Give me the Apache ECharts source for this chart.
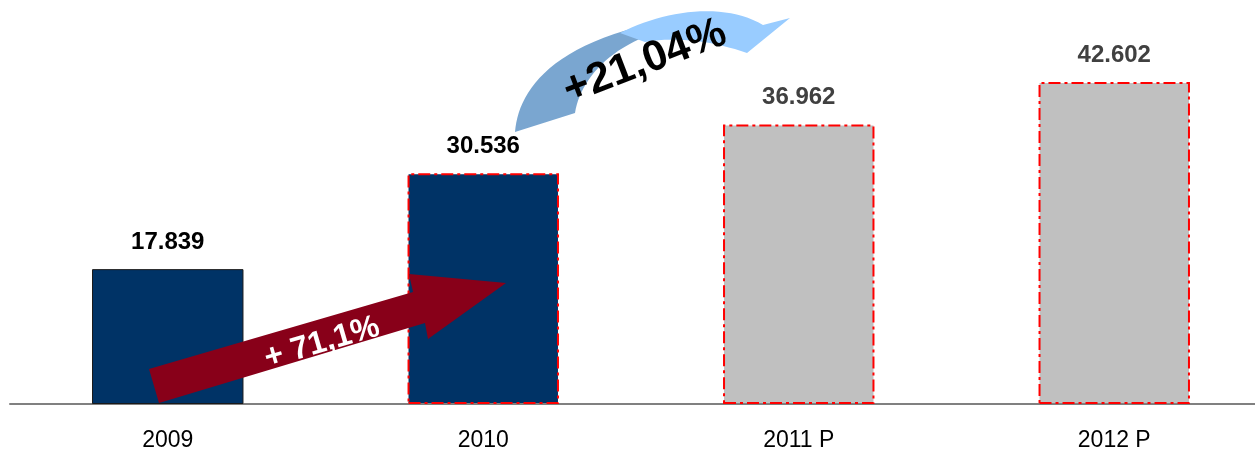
<!DOCTYPE html>
<html>
<head>
<meta charset="utf-8">
<script src="https://cdn.jsdelivr.net/npm/echarts@6/dist/echarts.min.js"></script>
<style>html,body{margin:0;padding:0;background:#fff}#c{width:1255px;height:452px}</style>
</head>
<body>
<div id="c"></div>
<script>
const categories = ['2009', '2010', '2011 P', '2012 P'];
const values = [17.839, 30.536, 36.962, 42.602];
const valueLabels = ['17.839', '30.536', '36.962', '42.602'];
const growthLabels = ['+ 71,1%', '+21,04%'];

const barStyles = [
  {color: '#003366', borderColor: '#1a1a1a', borderWidth: 1, borderType: 'solid', label: '#000000'},
  {color: '#003366', borderColor: '#ff0000', borderWidth: 2, borderType: [12, 4, 3, 4], label: '#000000'},
  {color: '#c0c0c0', borderColor: '#ff0000', borderWidth: 2, borderType: [12, 4, 3, 4], label: '#404040'},
  {color: '#c0c0c0', borderColor: '#ff0000', borderWidth: 2, borderType: [12, 4, 3, 4], label: '#404040'}
];

// sample cubic bezier into points (decorative shapes)
function bez(p0, p1, p2, p3, n) {
  const pts = [];
  for (let i = 0; i <= n; i++) {
    const t = i / n, u = 1 - t;
    pts.push([
      u*u*u*p0[0] + 3*u*u*t*p1[0] + 3*u*t*t*p2[0] + t*t*t*p3[0],
      u*u*u*p0[1] + 3*u*u*t*p1[1] + 3*u*t*t*p2[1] + t*t*t*p3[1]
    ]);
  }
  return pts;
}
const darkPts = [].concat(
  bez([515,132],[518,95],[545,48],[650,24], 24),
  bez([665,30],[610,45],[580,80],[575,113], 24)
);
const lightPts = [].concat(
  bez([620,33],[665,10],[725,2],[763,25], 24),
  [[790,18],[747,53]],
  bez([747,53],[715,42],[680,36],[645,42], 16)
);

const FONT = '"Liberation Sans", Arial, sans-serif';
const chart = echarts.init(document.getElementById('c'));
chart.setOption({
  animation: false,
  grid: {left: 10, width: 1262, top: 26, bottom: 48, outerBoundsMode: 'none', containLabel: false},
  xAxis: {
    type: 'category',
    data: categories,
    axisLine: {lineStyle: {color: '#808080', width: 2}},
    axisTick: {show: false},
    axisLabel: {color: '#000', fontSize: 23, fontFamily: FONT, margin: 25}
  },
  yAxis: {type: 'value', min: 0, max: 50, show: false, splitLine: {show: false}},
  series: [{
    type: 'bar',
    barWidth: '48%',
    data: values.map((v, i) => ({
      value: v,
      itemStyle: {color: barStyles[i].color, borderColor: barStyles[i].borderColor, borderWidth: barStyles[i].borderWidth, borderType: barStyles[i].borderType},
      label: {color: barStyles[i].label}
    })),
    label: {
      show: true, position: 'top', distance: 15,
      formatter: p => valueLabels[p.dataIndex],
      fontSize: 24, fontWeight: 'bold', fontFamily: FONT
    },
    z: 2
  }],
  graphic: [
    {type: 'polygon', z: 100, shape: {points: [[149,369],[413,292],[409,274],[506,283],[428,339],[425,323],[159,403]]}, style: {fill: '#880019'}},
    {type: 'text', z: 101, x: 322, y: 343, rotation: 16.3 * Math.PI / 180,
      style: {text: growthLabels[0], fill: '#fff', fontSize: 32, fontWeight: 'bold', fontFamily: FONT, align: 'center', verticalAlign: 'middle'}},
    {type: 'polygon', z: 100, shape: {points: darkPts}, style: {fill: '#7aa6d0'}},
    {type: 'polygon', z: 100, shape: {points: lightPts}, style: {fill: '#99ccff'}},
    {type: 'text', z: 101, x: 645, y: 62, rotation: 21 * Math.PI / 180,
      style: {text: growthLabels[1], fill: '#000', fontSize: 43, fontWeight: 'bold', fontFamily: FONT, align: 'center', verticalAlign: 'middle'}}
  ]
});
</script>
</body>
</html>
